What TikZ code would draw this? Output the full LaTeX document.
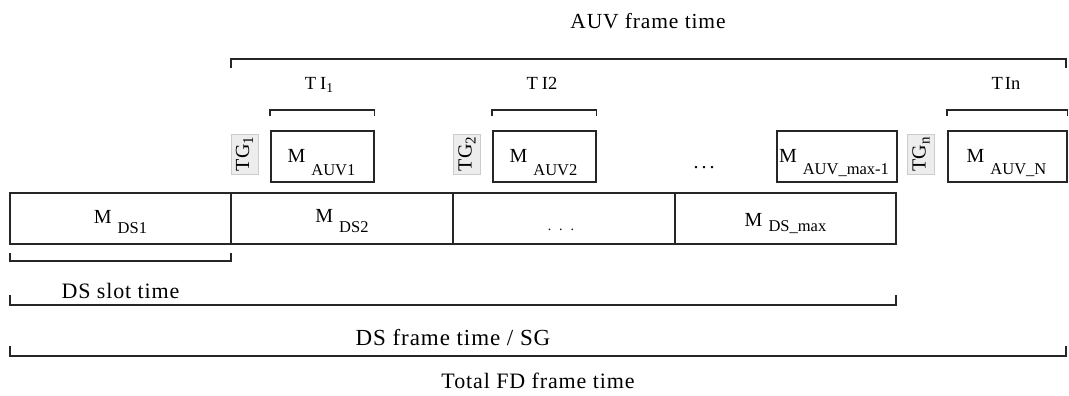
\documentclass[tikz,border=0pt]{standalone}
\usepackage{fontspec}
\setmainfont{Liberation Serif}
\newfontfamily\spfont[LetterSpace=4]{Liberation Serif}
\newcommand{\msub}[2]{M\hspace{6pt}\raisebox{-#1pt}{\fontsize{16.5}{16.5}\selectfont #2}}
\begin{document}
\begin{tikzpicture}[x=1pt,y=-1pt,
  box/.style={draw=black!85,line width=1.5pt,inner sep=0pt},
  brk/.style={draw=black!85,line width=1.5pt},
  lbl/.style={inner sep=0pt,anchor=base,font=\fontsize{20}{20}\selectfont},
  big/.style={inner sep=0pt,anchor=base,font=\spfont\fontsize{22}{22}\selectfont},
  ti/.style={inner sep=0pt,anchor=base,font=\fontsize{18.5}{18.5}\selectfont},
  tg/.style={fill=black!7,draw=black!20,line width=0.5pt,rotate=90,inner sep=0pt,
    minimum width=40pt,minimum height=27pt,font=\fontsize{20}{20}\selectfont}]
\useasboundingbox (0,0) rectangle (1069,396);

% DS row
\draw[box] (10,193) rectangle (896,244);
\coordinate (d1) at (231,193);
\coordinate (d2) at (453,193);
\coordinate (d3) at (675,193);
\draw[box] (d1) -- ++(0,51);
\draw[box] (d2) -- ++(0,51);
\draw[box] (d3) -- ++(0,51);
\node[lbl] (mds1) at (120.5,223) {\msub{10}{DS1}};
\node[lbl] (mds2) at (342,222) {\msub{10}{DS2}};
\node[lbl,font=\fontsize{14}{14}\selectfont] (mdsd) at (561,230) {.\hspace{8pt}.\hspace{8pt}.};
\node[lbl] (mdsm) at (785.5,226) {\msub{5}{DS\_max}};

% AUV row boxes
\node[box,anchor=north west,minimum width=103pt,minimum height=51pt] (a1) at (270,130) {};
\node[box,anchor=north west,minimum width=103pt,minimum height=51pt] (a2) at (492,130) {};
\node[box,anchor=north west,minimum width=120pt,minimum height=51pt] (a3) at (776,130) {};
\node[box,anchor=north west,minimum width=119pt,minimum height=51pt] (a4) at (947,130) {};
\node[lbl] (la1) at (321.5,162) {\msub{13}{AUV1}};
\node[lbl] (la2) at (543.5,162) {\msub{13}{AUV2}};
\node[lbl] (la3) at (834,162) {\msub{12}{AUV\_max-1}};
\node[lbl] (la4) at (1006.5,162) {\msub{12}{AUV\_N}};
\node[lbl] (adots) at (704,168) {.\hspace{3pt}.\hspace{3pt}.};

% TG labels
\node[tg] (tg1) at (244.5,154) {TG\raisebox{-4pt}{\fontsize{15}{15}\selectfont 1}};
\node[tg] (tg2) at (467,154) {TG\raisebox{-4pt}{\fontsize{15}{15}\selectfont 2}};
\node[tg] (tgn) at (921,154.5) {TG\raisebox{-4pt}{\fontsize{15}{15}\selectfont n}};

% TI brackets
\draw[brk] (a1.north west) ++(0,-14) -- ++(0,-6) -- ([yshift=20pt]a1.north east) -- ++(0,6);
\draw[brk] (a2.north west) ++(0,-14) -- ++(0,-6) -- ([yshift=20pt]a2.north east) -- ++(0,6);
\draw[brk] (a4.north west) ++(0,-14) -- ++(0,-6) -- ([yshift=20pt]a4.north east) -- ++(0,6);
\node[ti] (ti1) at (319,89) {T\hspace{4pt}I\raisebox{-3pt}{\fontsize{13.5}{13.5}\selectfont 1}};
\node[ti] (ti2) at (542,89) {T\hspace{4pt}I2};
\node[ti] (tin) at (1006,89) {T\hspace{2pt}In};

% AUV frame bracket
\draw[brk] (231,68) -- (231,59) -- (1066,59) -- (1066,68);
\node[big,font=\spfont\fontsize{21.5}{21.5}\selectfont] (auvft) at (648,29) {AUV frame time};

% bottom brackets
\draw[brk] (10,253) -- (10,261) -- (231,261) -- (231,253);
\node[big] (dsst) at (120.5,298) {DS slot time};
\draw[brk] (10,295) -- (10,305) -- (896,305) -- (896,295);
\node[big,font=\spfont\fontsize{23}{23}\selectfont] (dsft) at (453,345) {DS frame time / SG};
\draw[brk] (10,346) -- (10,356) -- (1066,356) -- (1066,346);
\node[big] (tft) at (538,388) {Total FD frame time};
\end{tikzpicture}
\end{document}
